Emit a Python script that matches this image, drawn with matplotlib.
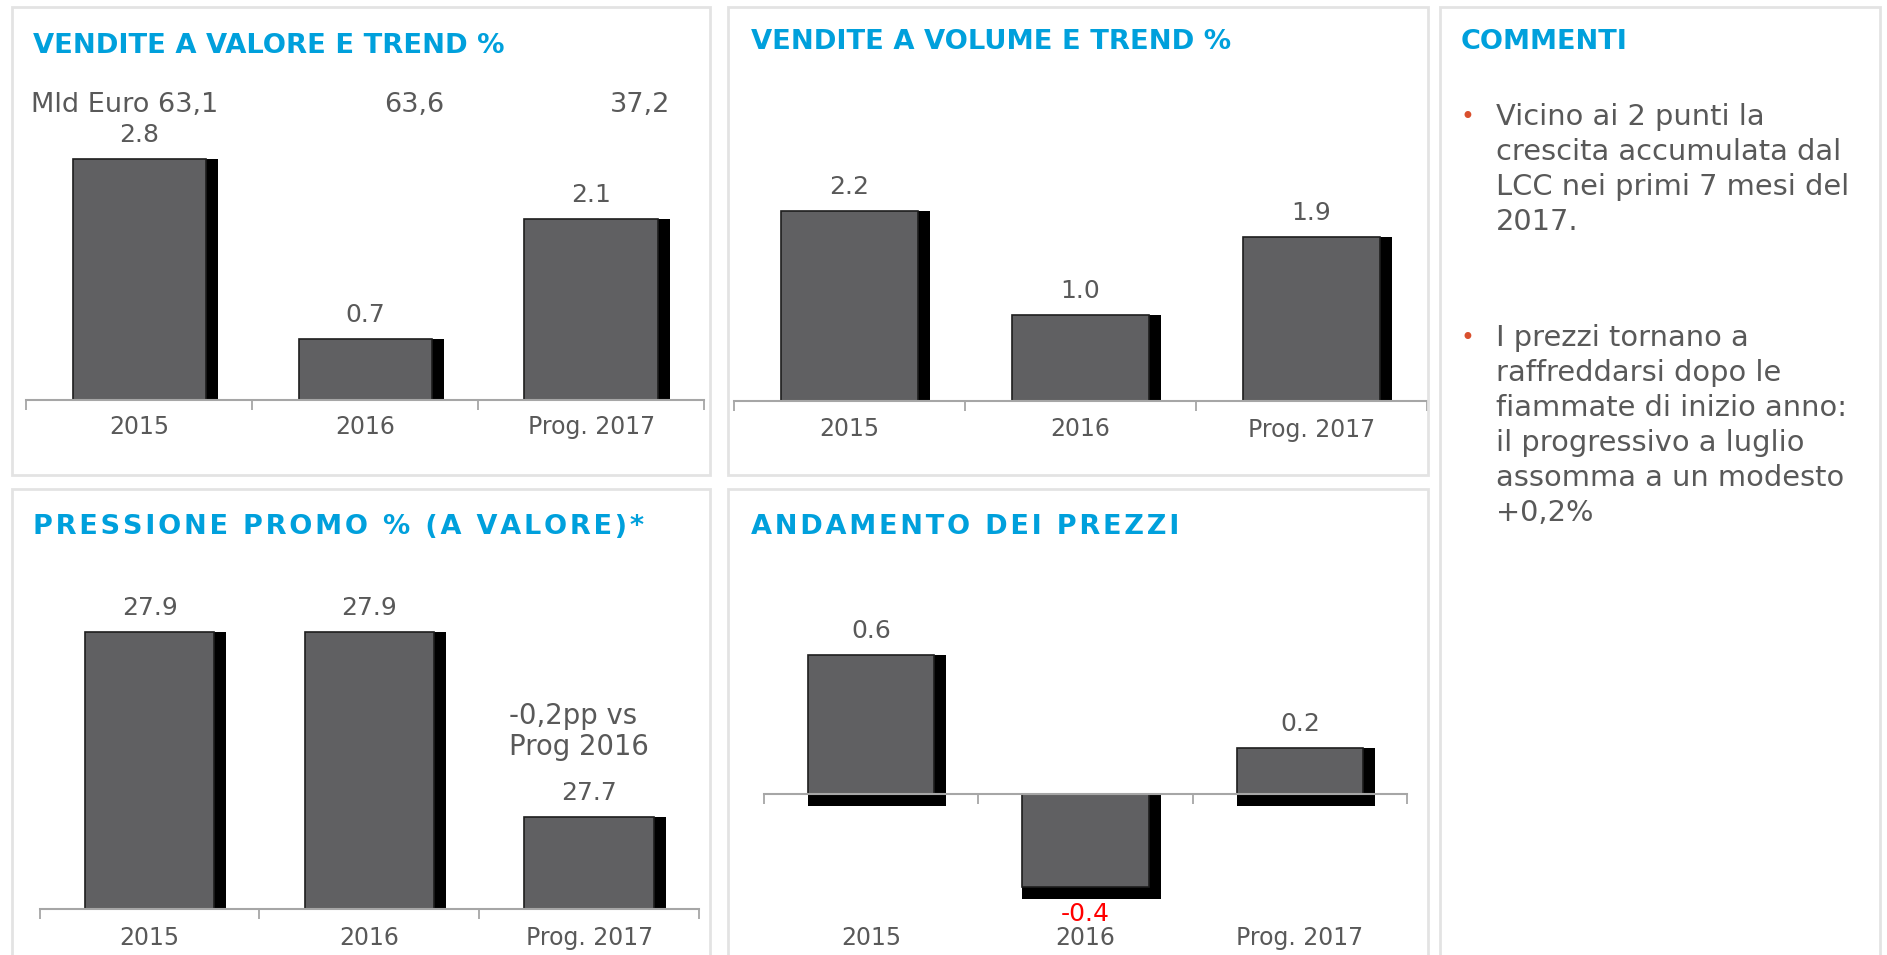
import numpy as np
import matplotlib.pyplot as plt
from matplotlib.patches import Rectangle
from matplotlib.transforms import offset_copy, blended_transform_factory

W, H = 1887, 955

categorie = ['2015', '2016', 'Prog. 2017']
trend_valore = [2.8, 0.7, 2.1]
mld_euro = ['Mld Euro 63,1', '63,6', '37,2']
trend_volume = [2.2, 1.0, 1.9]
pressione_promo = [27.9, 27.9, 27.7]
nota_promo = ['-0,2pp vs', 'Prog 2016']
prezzi = [0.6, -0.4, 0.2]

commento_1 = ['Vicino ai 2 punti la', 'crescita accumulata dal',
              'LCC nei primi 7 mesi del', '2017.']
commento_2 = ['I prezzi tornano a', 'raffreddarsi dopo le',
              'fiammate di inizio anno:', 'il progressivo a luglio',
              'assomma a un modesto', '+0,2%']

blu = '#00a0dc'
grigio = '#595959'
barra = '#606062'

fig = plt.figure(figsize=(W / 100, H / 100), dpi=100)


def fy(y):
    return 1 - y / H


def px_axes(left, top, right, bottom):
    return fig.add_axes([left / W, 1 - bottom / H, (right - left) / W, (bottom - top) / H])


# riquadri dei pannelli
for l, t, r, b in [(12, 7, 710, 475), (728, 7, 1428, 475), (1440, 7, 1880, 962),
                   (12, 489, 710, 962), (728, 489, 1428, 962)]:
    fig.patches.append(Rectangle((l / W, fy(b)), (r - l) / W, (b - t) / H,
                                 transform=fig.transFigure, fill=False,
                                 edgecolor='#e3e3e3', linewidth=2))


def pannello(ax, valori, ylim, y_cat, zero_line=False):
    x = np.arange(len(valori))
    w = 0.59
    # ombra nera in basso a destra
    for dx, dy in [(12, 0), (0, -12), (12, -12)]:
        tr = offset_copy(ax.transData, fig=fig, x=dx, y=dy, units='dots')
        ax.bar(x, valori, w, color='black', transform=tr, zorder=1)
    ax.bar(x, valori, w, color=barra, edgecolor='#1e1e1e', linewidth=1.2, zorder=2)
    ax.set_xlim(-0.5, 2.5)
    ax.set_ylim(*ylim)
    for s in ['top', 'right', 'left']:
        ax.spines[s].set_visible(False)
    ax.spines['bottom'].set_color('#a6a6a6')
    ax.spines['bottom'].set_linewidth(1.5)
    if zero_line:
        ax.spines['bottom'].set_position(('data', 0))
    ax.set_xticks([-0.5, 0.5, 1.5, 2.5])
    ax.set_xticklabels([])
    ax.tick_params(axis='x', length=7, color='#a6a6a6', width=1.3)
    ax.set_yticks([])
    ax.patch.set_alpha(0)
    for xi, v in zip(x, valori):
        if v >= 0:
            ax.annotate(f'{v:.1f}', (xi, v), xytext=(0, 24), textcoords='offset pixels',
                        ha='center', va='center', fontsize=18, color=grigio)
        else:
            ax.annotate(f'{v:.1f}', (xi, v), xytext=(0, -27), textcoords='offset pixels',
                        ha='center', va='center', fontsize=18, color='red')
    tr = blended_transform_factory(ax.transData, fig.transFigure)
    for xi, c in zip(x, categorie):
        ax.text(xi, fy(y_cat), c, transform=tr, ha='center', va='center',
                fontsize=17, color=grigio)
    return tr


# Vendite a valore
ax1 = px_axes(26.5, 98.5, 704, 399.5)
tr1 = pannello(ax1, trend_valore, (0, 3.5), 427)
for i, t in enumerate(mld_euro):
    ax1.text(i + 0.35, fy(104.7), t, transform=tr1, ha='right', va='center',
             fontsize=19.5, color=grigio)
fig.text(33 / W, fy(46), 'VENDITE A VALORE E TREND %', fontsize=19.7,
         fontweight='bold', color=blu, va='center')

# Vendite a volume
ax2 = px_axes(734, 99.7, 1427, 400.7)
pannello(ax2, trend_volume, (0, 3.5), 429.5)
fig.text(751 / W, fy(42), 'VENDITE A VOLUME E TREND %', fontsize=19.7,
         fontweight='bold', color=blu, va='center')

# Pressione promo
ax4 = px_axes(39.7, 540.4, 699, 908.6)
tr4 = pannello(ax4, pressione_promo, (27.6, 28.0), 937.5)
for k, riga in enumerate(nota_promo):
    fig.text(509 / W, fy(716 + 31 * k), riga, fontsize=19.8, color=grigio, va='center')
fig.text(33 / W, fy(527), '\u200a'.join('PRESSIONE PROMO % (A VALORE)*'),
         fontsize=19.5, fontweight='bold', color=blu, va='center')

# Andamento dei prezzi
ax5 = px_axes(764, 515.6, 1407, 944.8)
pannello(ax5, prezzi, (-0.65, 1.2), 937.5, zero_line=True)
fig.text(751 / W, fy(527), '\u200a'.join('ANDAMENTO DEI PREZZI'),
         fontsize=19.5, fontweight='bold', color=blu, va='center')

# Commenti
fig.text(1461 / W, fy(42), 'COMMENTI', fontsize=19.5, fontweight='bold',
         color=blu, va='center')
for start, righe in [(116.7, commento_1), (338.2, commento_2)]:
    fig.text(1467 / W, fy(start), '•', fontsize=17, color='#d9502e',
             va='center', ha='center')
    for k, riga in enumerate(righe):
        fig.text(1496 / W, fy(start + 35 * k), riga, fontsize=20.8,
                 color=grigio, va='center')

fig.savefig('out.png', dpi=100)
